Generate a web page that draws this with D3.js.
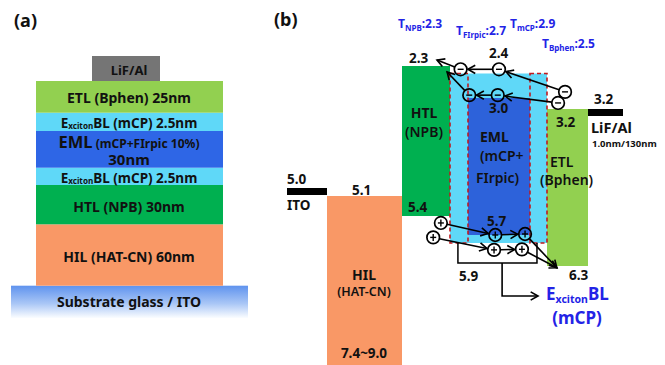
<!DOCTYPE html>
<html><head><meta charset="utf-8">
<script src="https://cdn.jsdelivr.net/npm/d3@7"></script>
<style>
body{margin:0;background:#fff}
svg{display:block}
text{font-family:"Noto Sans","Open Sans",sans-serif;fill:#111}
</style>
</head><body>
<svg id="c" width="665" height="365"></svg>
<script>
// ---------- (a) device stack, listed from bottom to top ----------
const stackLayers = ["Substrate", "HIL", "HTL", "EBL", "EML", "EBL", "ETL", "LiF/Al"];
const stackColors = ["url(#subGrad)", "#f99866", "#00b050", "#5fd8f8", "#2e66e6", "#5fd8f8", "#92d050", "#757575"];
const stackLabels = [
  [{t: "Substrate glass / ITO"}],
  [{t: "HIL (HAT-CN) 60nm"}],
  [{t: "HTL (NPB) 30nm"}],
  [{t: "E"}, {t: "xciton", sub: true}, {t: "BL (mCP)  2.5nm"}],
  [{t: "EML", big: true}, {t: " (mCP+FIrpic 10%)", small: true}],
  [{t: "E"}, {t: "xciton", sub: true}, {t: "BL (mCP)  2.5nm"}],
  [{t: "ETL (Bphen)  25nm"}],
  [{t: "LiF/Al"}]
];

// ---------- (b) energy levels (eV) ----------
const bLayers = ["ITO", "HIL", "HTL", "mCP", "EML", "mCP", "ETL", "LiF/Al"];
const lumo = [5.0, 5.1, 2.3, 2.4, 3.0, 2.4, 3.2, 3.2];
const homo = [null, 7.4, 5.4, 5.9, 5.7, 5.9, 6.3, null];
const bColors = ["#000", "#f99866", "#00b050", "#5fd8f8", "#2d62da", "#5fd8f8", "#92d050", "#000"];
const tripletNames = ["NPB", "FIrpic", "mCP", "Bphen"];
const tripletValues = [2.3, 2.7, 2.9, 2.5];

// carrier hopping paths: [layer position, energy]; the last point is the arrow target
const electronPaths = [
  [[6.44, 2.85], [4.50, 2.344], [3.59, 2.344], [2.73, 2.22]],
  [[6.27, 3.09], [4.48, 2.93], [4.02, 2.93], [2.94, 2.38]]
];
const holePaths = [
  [[2.81, 5.51], [4.44, 5.70], [4.92, 5.684], [6.24, 6.32]],
  [[2.65, 5.76], [4.42, 6.02], [4.87, 6.01], [6.24, 6.32]]
];

const svg = d3.select("#c");
const defs = svg.append("defs");
const g = defs.append("linearGradient").attr("id", "subGrad")
  .attr("x1", 0).attr("y1", 0).attr("x2", 0).attr("y2", 1);
g.append("stop").attr("offset", "0%").attr("stop-color", "#5f93ee");
g.append("stop").attr("offset", "55%").attr("stop-color", "#a9c6f6");
g.append("stop").attr("offset", "100%").attr("stop-color", "#fbfdff");
defs.append("marker").attr("id", "arr").attr("viewBox", "-10 -6 12 12")
  .attr("refX", 0).attr("refY", 0).attr("markerWidth", 11).attr("markerHeight", 11)
  .attr("markerUnits", "userSpaceOnUse").attr("orient", "auto")
  .append("path").attr("d", "M-8,-4.5L0,0L-8,4.5").attr("fill", "none")
  .attr("stroke", "#000").attr("stroke-width", 1.8);

function richText(sel, parts, base) {
  const shift = base * 0.14;
  let lowered = false;
  parts.forEach(p => {
    const ts = sel.append("tspan").text(p.t);
    if (p.sub) { ts.attr("font-size", base * 0.6).attr("dy", shift); lowered = true; }
    else {
      if (p.big) ts.attr("font-size", base * 1.18);
      else if (p.small) ts.attr("font-size", base * 0.86);
      if (lowered) { ts.attr("dy", -shift); lowered = false; }
    }
  });
  return sel;
}

// ----- panel (a) -----
const ya = d3.scaleLinear().domain([0, 1, 2, 3, 4, 5, 6, 7, 8])
  .range([318, 285.7, 224.3, 185, 167.7, 131, 112.7, 81, 56]);
const xa = {full: [36, 223], sub: [11, 248], top: [92, 160]};
const pa = svg.append("g");
stackLayers.forEach((name, i) => {
  const xr = i === 0 ? xa.sub : (i === 7 ? xa.top : xa.full);
  pa.append("rect").attr("x", xr[0]).attr("width", xr[1] - xr[0])
    .attr("y", ya(i + 1)).attr("height", ya(i) - ya(i + 1))
    .attr("fill", stackColors[i]);
});
const aLabelY = [306.5, 261.5, 211.5, 182.5, 147.5, 127.5, 103, 74.5];
const aLabelSize = [14, 14, 14, 13.5, 14, 13.5, 14, 13];
stackLabels.forEach((parts, i) => {
  const t = pa.append("text").attr("x", 129).attr("y", aLabelY[i])
    .attr("text-anchor", "middle").attr("font-size", aLabelSize[i])
    .attr("font-weight", "bold");
  richText(t, parts, aLabelSize[i]);
});
pa.append("text").attr("x", 129).attr("y", 165).attr("text-anchor", "middle")
  .attr("font-size", 15).attr("font-weight", "bold").text("30nm");
svg.append("text").attr("x", 14).attr("y", 27).attr("font-size", 18)
  .attr("font-weight", "bold").text("(a)");

// ----- panel (b) -----
const xb = d3.scaleLinear().domain([0, 1, 2, 3, 4, 5, 6, 7, 8])
  .range([287, 327, 402, 450, 468, 530, 547, 588, 623]);
const yE = d3.scaleLinear()
  .domain([2.3, 2.4, 3.0, 3.2, 5.0, 5.1, 5.4, 5.7, 5.9, 6.3, 7.4])
  .range([66, 73.5, 98, 109, 188, 196, 216, 235, 243, 266, 366]);
const pb = svg.append("g");

// organic layers: HIL, HTL, mCP span (behind EML), EML, ETL
const drawOrder = [1, 2, 3, 4, 6];
drawOrder.forEach(i => {
  const x0 = xb(i), x1 = i === 3 ? xb(6) : xb(i + 1);
  pb.append("rect").attr("x", x0).attr("width", x1 - x0)
    .attr("y", yE(lumo[i])).attr("height", yE(homo[i]) - yE(lumo[i]))
    .attr("fill", bColors[i]);
});
// electrodes: ITO and LiF/Al work functions
[0, 7].forEach(i => {
  pb.append("rect").attr("x", xb(i)).attr("width", xb(i + 1) - xb(i))
    .attr("y", yE(lumo[i])).attr("height", 7).attr("fill", bColors[i]);
});
// dashed outlines on the exciton blocking layers
[3, 5].forEach(i => {
  pb.append("rect").attr("x", xb(i)).attr("width", xb(i + 1) - xb(i))
    .attr("y", yE(lumo[i])).attr("height", yE(homo[i]) - yE(lumo[i]))
    .attr("fill", "none").attr("stroke", "#c0191e").attr("stroke-width", 1.6)
    .attr("stroke-dasharray", "4,3");
});

// bracket marking the exciton blocking layers
const bx0 = xb(3.44), bx1 = xb(5.41), byTop = yE(5.9), byBot = 263, bxm = xb(4.55);
pb.append("path").attr("d", `M${bx0},${byTop}V${byBot}H${bx1}V${byTop}`)
  .attr("fill", "none").attr("stroke", "#000").attr("stroke-width", 1.5);
pb.append("path").attr("d", `M${bxm},${byBot}V296H538`).attr("fill", "none")
  .attr("stroke", "#000").attr("stroke-width", 1.6).attr("marker-end", "url(#arr)");

// carriers and hopping arrows
const R = 6.3;
function drawCarriers(paths, sign) {
  paths.forEach(path => {
    const pts = path.map(p => [xb(p[0]), yE(p[1])]);
    for (let k = 0; k < pts.length - 1; k++) {
      const [ax, ay] = pts[k], [bx, by] = pts[k + 1];
      const d = Math.hypot(bx - ax, by - ay), ux = (bx - ax) / d, uy = (by - ay) / d;
      const endOff = k + 1 < pts.length - 1 ? R + 1 : 0;
      pb.append("line").attr("x1", ax + ux * R).attr("y1", ay + uy * R)
        .attr("x2", bx - ux * endOff).attr("y2", by - uy * endOff)
        .attr("stroke", "#000").attr("stroke-width", 1.6).attr("marker-end", "url(#arr)");
    }
    pts.slice(0, -1).forEach(([cx, cy]) => {
      pb.append("circle").attr("cx", cx).attr("cy", cy).attr("r", R)
        .attr("fill", "none").attr("stroke", "#000").attr("stroke-width", 1.7);
      pb.append("line").attr("x1", cx - 3).attr("x2", cx + 3).attr("y1", cy).attr("y2", cy)
        .attr("stroke", "#000").attr("stroke-width", 1.4);
      if (sign > 0) pb.append("line").attr("x1", cx).attr("x2", cx).attr("y1", cy - 3.5)
        .attr("y2", cy + 3.5).attr("stroke", "#000").attr("stroke-width", 1.4);
    });
  });
}
drawCarriers(electronPaths, -1);
drawCarriers(holePaths, 1);

// energy values
const fmt = d3.format(".1f");
const levelLabels = [
  [lumo[2], 409, 63], [lumo[3], 489, 58], [lumo[4], 489, 113], [lumo[6], 556, 127],
  [lumo[7], 594, 104], [lumo[0], 287, 184], [lumo[1], 352, 195], [homo[2], 408, 212],
  [homo[4], 487, 226], [homo[3], 459, 281], [homo[6], 569, 280]
];
levelLabels.forEach(([v, x, y]) => {
  pb.append("text").attr("x", x).attr("y", y).attr("font-size", 13.5)
    .attr("font-weight", "bold").text(fmt(v));
});
pb.append("text").attr("x", 364).attr("y", 358).attr("text-anchor", "middle")
  .attr("font-size", 13.5).attr("font-weight", "bold").text(fmt(homo[1]) + "~9.0");

// layer names
function label(x, y, txt, size, anchor, weight) {
  return pb.append("text").attr("x", x).attr("y", y).attr("font-size", size)
    .attr("text-anchor", anchor || "start").attr("font-weight", weight || "bold").text(txt);
}
label(287, 210, bLayers[0], 13.5);
label(364, 280, "HIL", 14, "middle");
label(364, 296, "(HAT-CN)", 12.5, "middle", 600);
label(424, 118, "HTL", 14, "middle");
label(424, 137, "(NPB)", 14, "middle", 600);
label(480, 142, "EML", 14);
label(480, 161, "(mCP+", 14, "start", 600);
label(476, 183, "FIrpic)", 14, "start", 600);
label(550, 167, "ETL", 14, "start", 600);
label(540, 185, "(Bphen)", 14, "start", 600);
label(591, 133, bLayers[7], 14.5);
label(592, 147, "1.0nm/130nm", 9.5);

// triplet energies
const tPos = [[398, 28], [456, 35], [510, 28], [542, 48]];
tripletNames.forEach((n, i) => {
  const t = pb.append("text").attr("x", tPos[i][0]).attr("y", tPos[i][1])
    .attr("font-size", 12).attr("font-weight", "bold").style("fill", "#2323e6");
  t.append("tspan").text("T");
  t.append("tspan").text(n).attr("font-size", 8).attr("dy", 3);
  t.append("tspan").text(":" + fmt(tripletValues[i])).attr("dy", -3);
});

// exciton blocking layer callout
const cl = pb.append("text").attr("x", 546).attr("y", 300).attr("font-size", 17)
  .attr("font-weight", "bold").style("fill", "#2323e6");
cl.append("tspan").text("E");
cl.append("tspan").text("xciton").attr("font-size", 10.5).attr("dy", 2.5);
cl.append("tspan").text("BL").attr("dy", -2.5);
pb.append("text").attr("x", 577).attr("y", 324).attr("text-anchor", "middle")
  .attr("font-size", 17).attr("font-weight", "bold").style("fill", "#2323e6").text("(mCP)");

svg.append("text").attr("x", 274).attr("y", 26).attr("font-size", 18)
  .attr("font-weight", "bold").text("(b)");
</script>
</body></html>
